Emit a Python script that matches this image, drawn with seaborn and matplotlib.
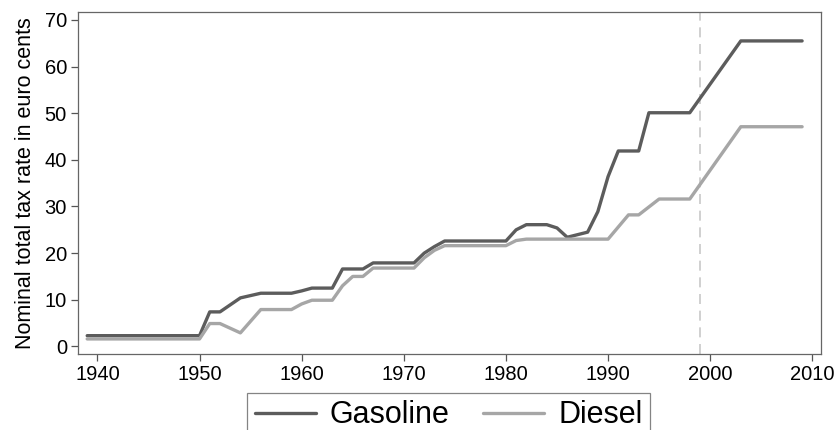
import pandas as pd
import numpy as np
import matplotlib
matplotlib.use("Agg")
import matplotlib.pyplot as plt
import seaborn as sns

# Gasoline tax (euro cents), breakpoints
gas_years = [1939, 1950, 1951, 1952, 1954, 1956, 1959, 1960, 1961, 1963, 1964, 1966,
             1967, 1971, 1972, 1973, 1974, 1980, 1981, 1982, 1984, 1985, 1986, 1988,
             1989, 1990, 1991, 1993, 1994, 1998, 2003, 2009]
gas_rate = [2.3, 2.3, 7.4, 7.4, 10.4, 11.4, 11.4, 11.9, 12.5, 12.5, 16.6, 16.6,
            17.9, 17.9, 20.0, 21.4, 22.6, 22.6, 25.0, 26.1, 26.1, 25.4, 23.4, 24.5,
            28.9, 36.4, 41.9, 41.9, 50.1, 50.1, 65.5, 65.5]

# Diesel tax (euro cents)
dsl_years = [1939, 1950, 1951, 1952, 1954, 1956, 1959, 1960, 1961, 1963, 1964, 1965,
             1966, 1967, 1971, 1972, 1973, 1974, 1980, 1981, 1982, 1990, 1992, 1993,
             1995, 1998, 2003, 2009]
dsl_rate = [1.6, 1.6, 4.9, 4.9, 2.9, 7.9, 7.9, 9.1, 9.9, 9.9, 13.0, 15.0,
            15.0, 16.8, 16.8, 19.0, 20.6, 21.6, 21.6, 22.7, 23.0, 23.0, 28.2, 28.2,
            31.6, 31.6, 47.1, 47.1]

x_ticks = [1940, 1950, 1960, 1970, 1980, 1990, 2000, 2010]
y_ticks = [0, 10, 20, 30, 40, 50, 60, 70]
reform_year = 1999

df = pd.concat([
    pd.DataFrame({"year": gas_years, "rate": gas_rate, "fuel": "Gasoline"}),
    pd.DataFrame({"year": dsl_years, "rate": dsl_rate, "fuel": "Diesel"}),
])

sns.set_style("ticks")
plt.rcParams["font.family"] = ["Liberation Sans", "DejaVu Sans"]
plt.rcParams["text.color"] = "black"
plt.rcParams["axes.labelcolor"] = "black"
plt.rcParams["xtick.labelcolor"] = "black"
plt.rcParams["ytick.labelcolor"] = "black"

fig = plt.figure(figsize=(8.34, 4.30), dpi=100)
ax = fig.add_axes([78 / 834, 1 - 354 / 430, (821 - 78) / 834, (354 - 12) / 430])

ax.axvline(reform_year, color="#c8c8c8", lw=1.2, ls=(0, (6, 4)), zorder=1)

sns.lineplot(data=df, x="year", y="rate", hue="fuel",
             palette={"Gasoline": "#5c5c5c", "Diesel": "#a6a6a6"},
             linewidth=2.4, ax=ax, legend=False, zorder=3)

ax.set_xlim(1938.1, 2010.85)
ax.set_ylim(-1.63, 71.7)
ax.set_xticks(x_ticks)
ax.set_yticks(y_ticks)
ax.tick_params(axis="both", labelsize=14.5, length=5, width=0.9, color="#555555",
               labelcolor="black", pad=3)
ax.set_xlabel("")
ax.set_ylabel("Nominal total tax rate in euro cents", fontsize=15.5, labelpad=6,
              color="black")

for s in ax.spines.values():
    s.set_color("#666666")
    s.set_linewidth(0.9)

# legend below the plot, partly cut off by the figure edge
handles = [plt.Line2D([], [], color="#5c5c5c", lw=2.4),
           plt.Line2D([], [], color="#a6a6a6", lw=2.4)]
leg = fig.legend(handles, ["Gasoline", "Diesel"], loc="upper center",
                 bbox_to_anchor=(0.538, 0.087), ncol=2, fontsize=22,
                 frameon=True, fancybox=False, handlelength=2.0,
                 handletextpad=0.45, columnspacing=1.1, borderpad=0.25,
                 borderaxespad=0, labelcolor="black")
leg.get_frame().set_edgecolor("#666666")
leg.get_frame().set_linewidth(0.9)

fig.savefig("out.png", dpi=100)
